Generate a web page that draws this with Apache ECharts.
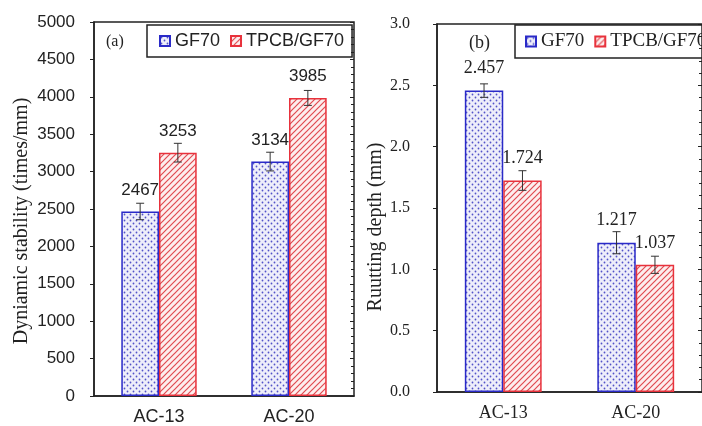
<!DOCTYPE html>
<html>
<head>
<meta charset="utf-8">
<script src="https://cdn.jsdelivr.net/npm/echarts@6/dist/echarts.min.js"></script>
<style>
  html, body { margin: 0; padding: 0; background: #fff; }
  #main { width: 702px; height: 426px; }
</style>
</head>
<body>
<div id="main"></div>
<script>
const categories = ['AC-13', 'AC-20']
const seriesNames = ['GF70', 'TPCB/GF70']

// (a) dynamic stability, times/mm
const stabilityGF70 = [2467, 3134]
const stabilityTPCB = [3253, 3985]
const stabilityErrGF70 = [110, 125]
const stabilityErrTPCB = [125, 100]

// (b) rutting depth, mm
const rutGF70 = [2.457, 1.217]
const rutTPCB = [1.724, 1.037]
const rutErrGF70 = [0.055, 0.09]
const rutErrTPCB = [0.08, 0.07]

const SERIF = 'Liberation Serif'
const SANS = 'Liberation Sans'
const BLUE = '#2a2ac8'
const RED = '#e8323c'

// fill patterns
function dotPattern() {
  const c = document.createElement('canvas')
  c.width = 6; c.height = 6
  const g = c.getContext('2d')
  g.fillStyle = '#eeeefa'
  g.fillRect(0, 0, 6, 6)
  g.fillStyle = '#5252c8'
  g.beginPath(); g.arc(1.5, 1.5, 0.9, 0, Math.PI * 2); g.fill()
  g.beginPath(); g.arc(4.5, 4.5, 0.9, 0, Math.PI * 2); g.fill()
  return c
}
function hatchPattern() {
  const c = document.createElement('canvas')
  c.width = 6; c.height = 6
  const g = c.getContext('2d')
  g.fillStyle = '#fdeeee'
  g.fillRect(0, 0, 6, 6)
  g.strokeStyle = '#e04a50'
  g.lineWidth = 1.2
  g.beginPath()
  g.moveTo(-3, 3); g.lineTo(3, -3)
  g.moveTo(0, 6); g.lineTo(6, 0)
  g.moveTo(3, 9); g.lineTo(9, 3)
  g.stroke()
  return c
}
const dotFill = { image: dotPattern(), repeat: 'repeat' }
const hatchFill = { image: hatchPattern(), repeat: 'repeat' }

function errorBars(sign) {
  return (params, api) => {
    const cat = api.value(0)
    const val = api.value(1)
    const err = api.value(2)
    const dx = api.size([1, 0])[0] * 0.145 * sign
    const top = api.coord([cat, val + err])
    const bot = api.coord([cat, val - err])
    const x = top[0] + dx
    const style = { stroke: '#333', lineWidth: 1 }
    return {
      type: 'group',
      children: [
        { type: 'line', shape: { x1: x, y1: top[1], x2: x, y2: bot[1] }, style },
        { type: 'line', shape: { x1: x - 4, y1: top[1], x2: x + 4, y2: top[1] }, style },
        { type: 'line', shape: { x1: x - 4, y1: bot[1], x2: x + 4, y2: bot[1] }, style }
      ]
    }
  }
}

function xAxisFor(gridIndex, font, size) {
  return {
    type: 'category', gridIndex, data: categories,
    axisLine: { lineStyle: { color: '#222', width: 1.5 } },
    axisTick: { inside: true, length: 5, lineStyle: { color: '#222' } },
    axisLabel: { fontFamily: font, fontSize: size, color: '#222', margin: 12 }
  }
}
function yAxesFor(gridIndex, max, interval, font, size, margin, name, nameGap, nameSize, shift) {
  return [{
    type: 'value', gridIndex, min: 0, max, interval,
    name, nameLocation: 'middle', nameGap, nameRotate: 90,
    nameTextStyle: { fontFamily: SERIF, fontSize: nameSize, color: '#222', padding: [0, shift, 0, 0] },
    axisLine: { show: true, lineStyle: { color: '#222', width: 1.5 } },
    axisTick: { show: true, length: 4, lineStyle: { color: '#222' } },
    axisLabel: {
      fontFamily: font, fontSize: size, color: '#222', margin,
      formatter: v => (interval < 1 ? v.toFixed(1) : String(v))
    },
    splitLine: { show: false }
  }, {
    type: 'value', gridIndex, min: 0, max, interval,
    axisLine: { show: false },
    axisTick: { show: true, inside: true, length: 4, lineStyle: { color: '#222' } },
    minorTick: { show: true, splitNumber: 5, length: 3, lineStyle: { color: '#222' } },
    axisLabel: { show: false },
    splitLine: { show: false }
  }]
}

function barSeries(name, xi, yi, data, fill, border, font, size) {
  return {
    name, type: 'bar', xAxisIndex: xi, yAxisIndex: yi, data,
    barWidth: '29%', barGap: '0%',
    itemStyle: { color: fill, borderColor: border, borderWidth: 1.5 },
    label: {
      show: true, position: 'top', distance: 13,
      fontFamily: font, fontSize: size, color: '#222'
    },
    z: 2
  }
}
function errSeries(xi, yi, vals, errs, sign) {
  return {
    type: 'custom', xAxisIndex: xi, yAxisIndex: yi,
    data: vals.map((v, i) => [i, v, errs[i]]),
    encode: { x: 0, y: 1 },
    renderItem: errorBars(sign),
    silent: true, z: 3
  }
}

const chart = echarts.init(document.getElementById('main'))
chart.setOption({
  animation: false,
  backgroundColor: '#fff',
  grid: [
    { left: 94, top: 22, width: 260, height: 375, show: true, borderColor: '#222', borderWidth: 1.5 },
    { left: 437, top: 24, width: 274, height: 368, show: true, borderColor: '#222', borderWidth: 1.5 }
  ],
  legend: [{
    left: 147, top: 25, orient: 'horizontal',
    data: seriesNames, icon: 'rect', itemWidth: 10, itemHeight: 10, itemGap: 10,
    padding: [7, 8, 7, 12],
    borderColor: '#222', borderWidth: 1.5,
    textStyle: { fontFamily: SANS, fontSize: 18, color: '#222' }
  }, {
    left: 515, top: 25, width: 320, orient: 'horizontal',
    data: seriesNames, icon: 'rect', itemWidth: 10, itemHeight: 10, itemGap: 10,
    padding: [7, 8, 7, 10],
    borderColor: '#222', borderWidth: 1.5,
    textStyle: { fontFamily: SERIF, fontSize: 19, color: '#222' }
  }],
  xAxis: [xAxisFor(0, SANS, 18), xAxisFor(1, SERIF, 18)],
  yAxis: [
    ...yAxesFor(0, 5000, 500, SANS, 17, 19, 'Dyniamic stability (times/mm)', 62, 20, 24),
    ...yAxesFor(1, 3.0, 0.5, SERIF, 16, 27, 'Ruutting depth (mm)', 50, 20, 38)
  ],
  graphic: [
    { type: 'text', left: 106, top: 34, style: { text: '(a)', fontFamily: SERIF, fontSize: 16, fill: '#222' } },
    { type: 'text', left: 469, top: 34, style: { text: '(b)', fontFamily: SERIF, fontSize: 18, fill: '#222' } }
  ],
  series: [
    barSeries('GF70', 0, 0, stabilityGF70, dotFill, BLUE, SANS, 17),
    barSeries('TPCB/GF70', 0, 0, stabilityTPCB, hatchFill, RED, SANS, 17),
    errSeries(0, 0, stabilityGF70, stabilityErrGF70, -1),
    errSeries(0, 0, stabilityTPCB, stabilityErrTPCB, 1),
    barSeries('GF70', 1, 2, rutGF70, dotFill, BLUE, SERIF, 18),
    barSeries('TPCB/GF70', 1, 2, rutTPCB, hatchFill, RED, SERIF, 18),
    errSeries(1, 2, rutGF70, rutErrGF70, -1),
    errSeries(1, 2, rutTPCB, rutErrTPCB, 1)
  ]
})
</script>
</body>
</html>
